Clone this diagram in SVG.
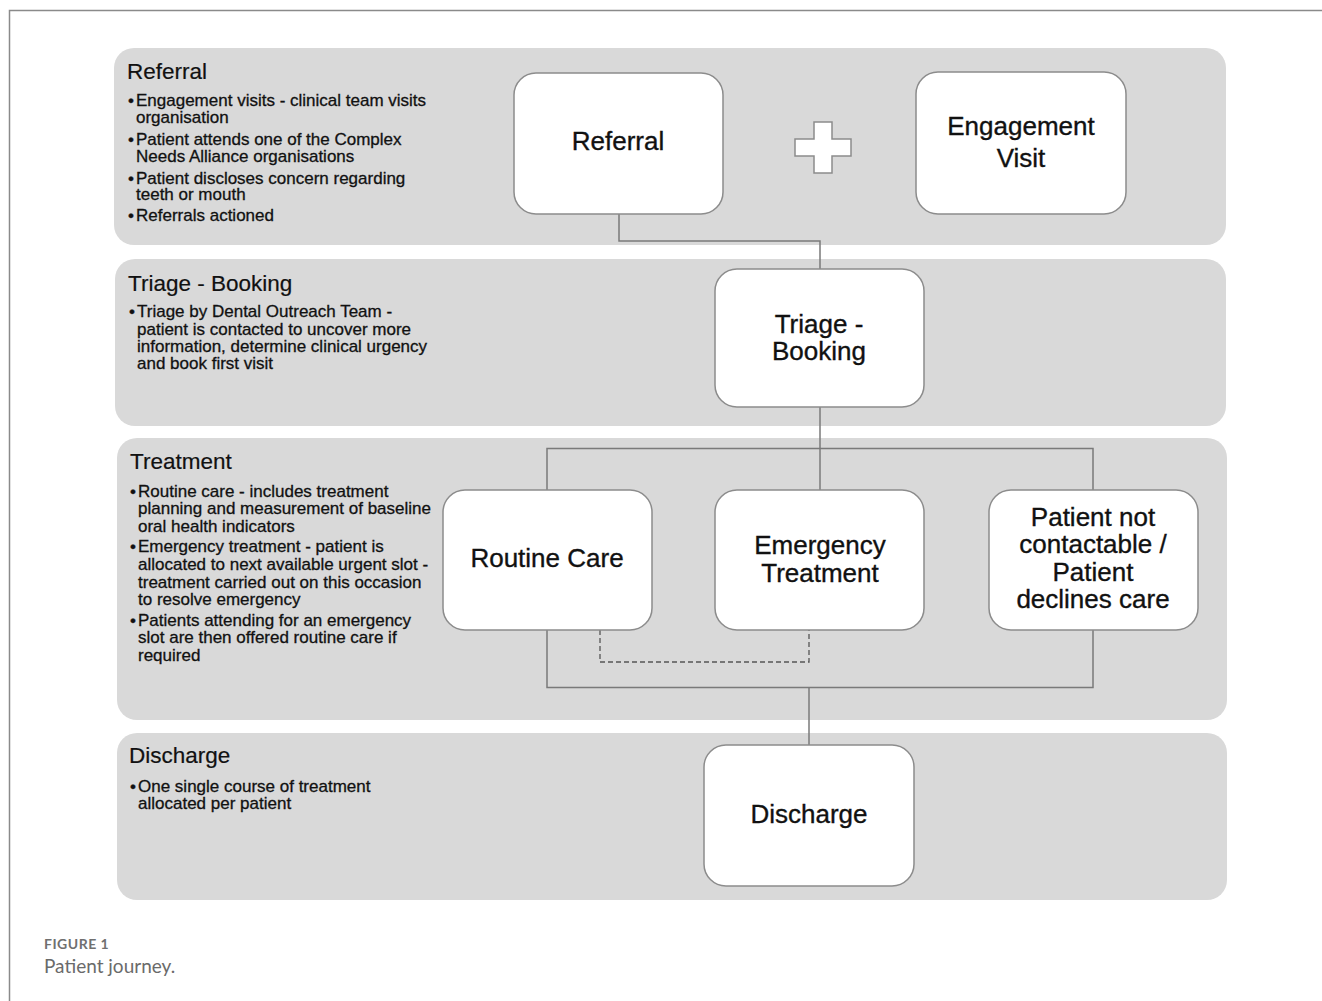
<svg xmlns="http://www.w3.org/2000/svg" width="1322" height="1001" viewBox="0 0 1322 1001">
<style>
.band{fill:#d9d9d9}
.box{fill:#fff;stroke:#8c8c8c;stroke-width:1.5}
.lbl{font-family:"Liberation Sans",Arial,sans-serif;font-size:26px;fill:#111;stroke:#111;stroke-width:0.35;text-anchor:middle}
.hdr{font-family:"Liberation Sans",Arial,sans-serif;font-size:22.5px;fill:#111;stroke:#111;stroke-width:0.2}
.bul{font-family:"Liberation Sans",Arial,sans-serif;font-size:17px;fill:#111;stroke:#111;stroke-width:0.3}
.con{fill:none;stroke:#7a7a7a;stroke-width:1.5}
.dash{fill:none;stroke:#555;stroke-width:1.3;stroke-dasharray:5 3}
.frame{fill:none;stroke:#8a8a8a;stroke-width:1.5}
</style>
<rect width="1322" height="1001" fill="#fff"/>
<path class="frame" d="M9.5 1001 V10.5 H1322"/>

<g id="bands">
<rect class="band" x="114" y="48" width="1112" height="197" rx="20"/>
<rect class="band" x="115" y="259" width="1111" height="167" rx="20"/>
<rect class="band" x="117" y="438" width="1110" height="282" rx="20"/>
<rect class="band" x="117" y="733" width="1110" height="167" rx="20"/>
</g>

<g id="lane-referral">
<text class="hdr" x="127" y="79">Referral</text>
<text class="bul"><tspan x="128" y="106">•</tspan><tspan x="136" y="106">Engagement visits - clinical team visits</tspan><tspan x="136" y="123">organisation</tspan><tspan x="128" y="145">•</tspan><tspan x="136" y="145">Patient attends one of the Complex</tspan><tspan x="136" y="162">Needs Alliance organisations</tspan><tspan x="128" y="184">•</tspan><tspan x="136" y="184">Patient discloses concern regarding</tspan><tspan x="136" y="200">teeth or mouth</tspan><tspan x="128" y="221">•</tspan><tspan x="136" y="221">Referrals actioned</tspan></text>
</g>

<g id="lane-triage">
<text class="hdr" x="128" y="291">Triage - Booking</text>
<text class="bul"><tspan x="129" y="317">•</tspan><tspan x="137" y="317">Triage by Dental Outreach Team -</tspan><tspan x="137" y="335">patient is contacted to uncover more</tspan><tspan x="137" y="352">information, determine clinical urgency</tspan><tspan x="137" y="369">and book first visit</tspan></text>
</g>

<g id="lane-treatment">
<text class="hdr" x="130" y="469">Treatment</text>
<text class="bul"><tspan x="130" y="497">•</tspan><tspan x="138" y="497">Routine care - includes treatment</tspan><tspan x="138" y="514">planning and measurement of baseline</tspan><tspan x="138" y="532">oral health indicators</tspan><tspan x="130" y="552">•</tspan><tspan x="138" y="552">Emergency treatment - patient is</tspan><tspan x="138" y="570">allocated to next available urgent slot -</tspan><tspan x="138" y="588">treatment carried out on this occasion</tspan><tspan x="138" y="605">to resolve emergency</tspan><tspan x="130" y="626">•</tspan><tspan x="138" y="626">Patients attending for an emergency</tspan><tspan x="138" y="643">slot are then offered routine care if</tspan><tspan x="138" y="661">required</tspan></text>
</g>

<g id="lane-discharge">
<text class="hdr" x="129" y="763">Discharge</text>
<text class="bul"><tspan x="130" y="792">•</tspan><tspan x="138" y="792">One single course of treatment</tspan><tspan x="138" y="809">allocated per patient</tspan></text>
</g>

<g id="connectors">
<path class="con" d="M619 214 V241 H820 V269"/>
<path class="con" d="M820 407 V490"/>
<path class="con" d="M547 490 V448.5 H1093 V490"/>
<path class="con" d="M547 630 V687.5 H1093 V630"/>
<path class="con" d="M809 687.5 V745"/>
<path class="dash" d="M600 630 V662 H809 V630"/>
</g>

<g id="node-referral">
<rect class="box" x="514" y="73" width="209" height="141" rx="22"/>
<text class="lbl" x="618" y="150">Referral</text>
</g>

<g id="plus">
<path d="M814 122 H832 V139 H851 V156 H832 V173 H814 V156 H795 V139 H814 Z" fill="#fff" stroke="#8c8c8c" stroke-width="1.5"/>
</g>

<g id="node-engagement">
<rect class="box" x="916" y="72" width="210" height="142" rx="22"/>
<text class="lbl"><tspan x="1021" y="135">Engagement</tspan><tspan x="1021" y="167">Visit</tspan></text>
</g>

<g id="node-triage">
<rect class="box" x="715" y="269" width="209" height="138" rx="22"/>
<text class="lbl"><tspan x="819" y="333">Triage -</tspan><tspan x="819" y="360">Booking</tspan></text>
</g>

<g id="node-routine">
<rect class="box" x="443" y="490" width="209" height="140" rx="22"/>
<text class="lbl" x="547" y="567">Routine Care</text>
</g>

<g id="node-emergency">
<rect class="box" x="715" y="490" width="209" height="140" rx="22"/>
<text class="lbl"><tspan x="820" y="554">Emergency</tspan><tspan x="820" y="582">Treatment</tspan></text>
</g>

<g id="node-notcontactable">
<rect class="box" x="989" y="490" width="209" height="140" rx="22"/>
<text class="lbl"><tspan x="1093" y="526">Patient not</tspan><tspan x="1093" y="553">contactable /</tspan><tspan x="1093" y="581">Patient</tspan><tspan x="1093" y="608">declines care</tspan></text>
</g>

<g id="node-discharge">
<rect class="box" x="704" y="745" width="210" height="141" rx="22"/>
<text class="lbl" x="809" y="823">Discharge</text>
</g>

<g id="caption">
<text x="44" y="949" font-family="Lato,'Open Sans',sans-serif" font-size="14" font-weight="bold" fill="#707070" letter-spacing="0.5">FIGURE 1</text>
<text x="44" y="973" font-family="Lato,'Open Sans',sans-serif" font-size="19" fill="#6a6a6a">Patient journey.</text>
</g>
</svg>
